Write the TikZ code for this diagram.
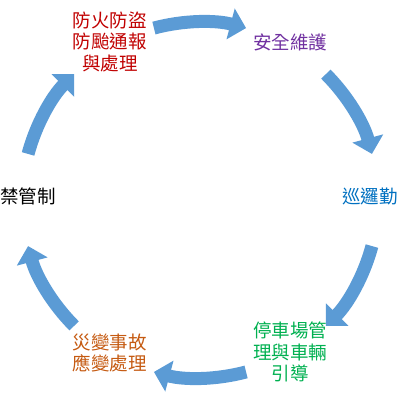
\documentclass[tikz,border=0pt]{standalone}
\usepackage{fontspec}
\newfontfamily\cjk{Noto Sans CJK TC}
\usepackage{xcolor}
\usetikzlibrary{arrows.meta,calc}
\definecolor{cycleblue}{HTML}{5B9BD5}
\definecolor{fireRed}{HTML}{C00000}
\definecolor{guardPurple}{HTML}{7030A0}
\definecolor{patrolBlue}{HTML}{0070C0}
\definecolor{parkGreen}{HTML}{00B050}
\definecolor{disasterOrange}{HTML}{C55A11}

\begin{document}
\begin{tikzpicture}[x=1pt,y=-1pt,
  cyclearrow/.style={line width=13pt, cycleblue, -{Triangle[width=31pt,length=16pt]}},
  task/.style={font=\cjk\fontsize{18.5}{21.5}\selectfont, align=center, inner sep=0pt}]
  \useasboundingbox (0,0) rectangle (400,400);
  % Cycle arrows
  \foreach \k in {0,...,5} {
    \coordinate (s\k) at ($(200,200)+(-105+60*\k:178)$);
    \draw[cyclearrow] (s\k) arc[start angle=-105+60*\k, end angle=-75+60*\k, radius=178];
  }
  % Tasks
  \node[task, fireRed] (fire) at (110,42) {防火防盜\\防颱通報\\與處理};
  \node[task, guardPurple] (guard) at (290,42) {安全維護};
  \node[task, patrolBlue, anchor=west] (patrol) at (342,197) {巡邏勤};
  \node[task, parkGreen] (park) at (290,352) {停車場管\\理與車輛\\引導};
  \node[task, disasterOrange] (disaster) at (110,353) {災變事故\\應變處理};
  \node[task, anchor=west] (access) at (0,196) {禁管制};
\end{tikzpicture}
\end{document}
